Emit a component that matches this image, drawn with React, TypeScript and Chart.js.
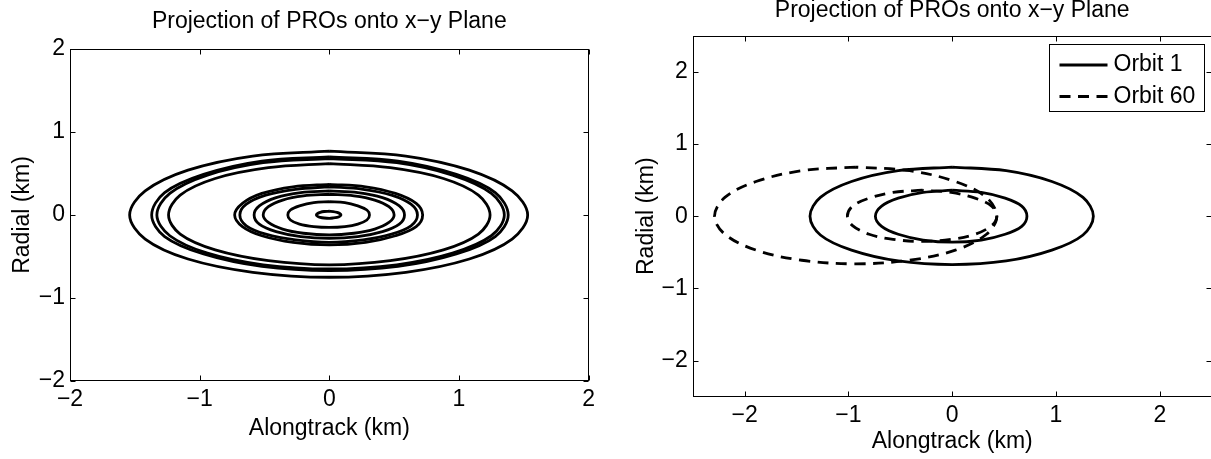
import React, { useEffect, useRef } from 'react';
import { Chart, registerables } from 'chart.js';

Chart.register(...registerables);

const FONT = "'Liberation Sans', Arial, Helvetica, sans-serif";
const FONT_SIZE = 23;

const titleText = 'Projection of PROs onto x\u2212y Plane';
const xAxisLabel = 'Alongtrack (km)';
const yAxisLabel = 'Radial (km)';

const leftXTicks = [-2, -1, 0, 1, 2];
const leftYTicks = [-2, -1, 0, 1, 2];
const rightXTicks = [-2, -1, 0, 1, 2];
const rightYTicks = [-2, -1, 0, 1, 2];

// Left panel: projected relative orbits (km)
const ring1X = [0, -0.59, -1.09, -1.42, -1.54, -1.42, -1.09, -0.59, 0, 0.59, 1.08, 1.41, 1.53, 1.41, 1.08, 0.59, 0];
const ring1Y = [0.77, 0.71, 0.54, 0.29, 0, -0.29, -0.53, -0.69, -0.75, -0.69, -0.53, -0.29, 0, 0.29, 0.54, 0.71, 0.77];
const ring2X = [0, -0.52, -0.97, -1.27, -1.37, -1.27, -0.97, -0.52, 0, 0.53, 0.98, 1.28, 1.38, 1.28, 0.98, 0.53, 0];
const ring2Y = [0.7, 0.65, 0.49, 0.27, 0, -0.26, -0.47, -0.62, -0.67, -0.62, -0.47, -0.26, 0, 0.27, 0.49, 0.65, 0.7];
const ring3X = [0, -0.51, -0.94, -1.23, -1.33, -1.23, -0.94, -0.51, 0, 0.52, 0.95, 1.25, 1.35, 1.25, 0.95, 0.52, 0];
const ring3Y = [0.68, 0.63, 0.48, 0.26, 0, -0.25, -0.46, -0.6, -0.65, -0.6, -0.46, -0.25, 0, 0.26, 0.48, 0.63, 0.68];
const ring4X = [0, -0.47, -0.88, -1.15, -1.24, -1.15, -0.88, -0.47, 0, 0.47, 0.88, 1.15, 1.24, 1.15, 0.88, 0.47, 0];
const ring4Y = [0.62, 0.57, 0.44, 0.24, 0, -0.23, -0.42, -0.55, -0.6, -0.55, -0.42, -0.23, 0, 0.24, 0.44, 0.57, 0.62];
const ring5X = [0, -0.28, -0.52, -0.67, -0.73, -0.67, -0.52, -0.28, 0, 0.28, 0.51, 0.67, 0.72, 0.67, 0.51, 0.28, 0];
const ring5Y = [0.37, 0.34, 0.26, 0.14, 0, -0.14, -0.25, -0.33, -0.36, -0.33, -0.25, -0.14, 0, 0.14, 0.26, 0.34, 0.37];
const ring6X = [0, -0.26, -0.49, -0.64, -0.69, -0.64, -0.49, -0.26, 0, 0.26, 0.48, 0.63, 0.68, 0.63, 0.48, 0.26, 0];
const ring6Y = [0.34, 0.31, 0.24, 0.13, 0, -0.13, -0.23, -0.3, -0.33, -0.3, -0.23, -0.13, 0, 0.13, 0.24, 0.31, 0.34];
const ring7X = [0, -0.22, -0.41, -0.54, -0.58, -0.54, -0.41, -0.22, 0, 0.22, 0.41, 0.54, 0.58, 0.54, 0.41, 0.22, 0];
const ring7Y = [0.29, 0.27, 0.21, 0.11, 0, -0.11, -0.2, -0.26, -0.28, -0.26, -0.2, -0.11, 0, 0.11, 0.21, 0.27, 0.29];
const ring8X = [0, -0.2, -0.36, -0.47, -0.51, -0.47, -0.36, -0.2, 0, 0.19, 0.35, 0.46, 0.5, 0.46, 0.35, 0.19, 0];
const ring8Y = [0.25, 0.23, 0.18, 0.1, 0, -0.09, -0.17, -0.22, -0.24, -0.22, -0.17, -0.09, 0, 0.1, 0.18, 0.23, 0.25];
const ring9X = [0, -0.12, -0.23, -0.3, -0.32, -0.3, -0.23, -0.12, 0, 0.12, 0.22, 0.29, 0.31, 0.29, 0.22, 0.12, 0];
const ring9Y = [0.16, 0.15, 0.11, 0.06, 0, -0.06, -0.11, -0.14, -0.15, -0.14, -0.11, -0.06, 0, 0.06, 0.11, 0.15, 0.16];
const ring10X = [0, -0.04, -0.07, -0.09, -0.1, -0.09, -0.07, -0.04, 0, 0.03, 0.06, 0.08, 0.09, 0.08, 0.06, 0.03, 0];
const ring10Y = [0.045, 0.042, 0.032, 0.018, 0, -0.016, -0.028, -0.036, -0.04, -0.036, -0.028, -0.016, 0, 0.018, 0.032, 0.042, 0.045];

// Right panel: orbit 1 (solid) and orbit 60 (dashed)
const orbit1OuterX = [0, -0.52, -0.97, -1.27, -1.37, -1.27, -0.97, -0.52, 0, 0.52, 0.96, 1.26, 1.36, 1.26, 0.96, 0.52, 0];
const orbit1OuterY = [0.68, 0.63, 0.48, 0.26, 0, -0.26, -0.47, -0.62, -0.67, -0.62, -0.47, -0.26, 0, 0.26, 0.48, 0.63, 0.68];
const orbit1InnerX = [0, -0.28, -0.52, -0.68, -0.74, -0.68, -0.52, -0.28, 0, 0.28, 0.51, 0.67, 0.72, 0.67, 0.51, 0.28, 0];
const orbit1InnerY = [0.36, 0.33, 0.25, 0.14, 0, -0.14, -0.25, -0.33, -0.36, -0.33, -0.25, -0.14, 0, 0.14, 0.25, 0.33, 0.36];
const orbit60OuterX = [-0.93, -1.45, -1.89, -2.19, -2.29, -2.19, -1.89, -1.45, -0.93, -0.41, 0.03, 0.33, 0.43, 0.33, 0.03, -0.41, -0.93];
const orbit60OuterY = [0.68, 0.63, 0.48, 0.26, 0, -0.25, -0.47, -0.61, -0.66, -0.61, -0.47, -0.25, 0, 0.26, 0.48, 0.63, 0.68];
const orbit60InnerX = [-0.29, -0.57, -0.8, -0.96, -1.01, -0.96, -0.8, -0.57, -0.29, -0.01, 0.22, 0.38, 0.43, 0.38, 0.22, -0.01, -0.29];
const orbit60InnerY = [0.36, 0.33, 0.25, 0.14, 0, -0.13, -0.25, -0.32, -0.35, -0.32, -0.25, -0.13, 0, 0.14, 0.25, 0.33, 0.36];

const legendLabels = ['Orbit 1', 'Orbit 60'];

const DASH = [11, 7.5];
const LINE_W = 2.8;

const toPts = (xs: number[], ys: number[]) => xs.map((x, i) => ({ x, y: ys[i] }));
const fmt = (v: number | string) => String(v).replace('-', '\u2212');

function curve(xs: number[], ys: number[], dashed = false) {
  return {
    data: toPts(xs, ys),
    showLine: true,
    borderColor: '#000',
    backgroundColor: '#000',
    borderWidth: LINE_W,
    borderDash: dashed ? DASH : [],
    pointRadius: 0,
    tension: 0.35,
    fill: false,
    borderJoinStyle: 'round' as const,
    borderCapStyle: 'butt' as const,
  };
}

function framePlugin(xTicks: number[], yTicks: number[], withLegend: boolean, titleY: number) {
  return {
    id: 'frameTicks',
    afterDatasetsDraw(chart: any) {
      const { ctx, chartArea: ca, scales } = chart;
      const L = Math.round(ca.left) + 0.5;
      const R = Math.round(ca.right) - 0.5;
      const T = Math.round(ca.top) + 0.5;
      const B = Math.round(ca.bottom) - 0.5;
      ctx.save();
      ctx.strokeStyle = '#000';
      ctx.lineWidth = 1;
      ctx.setLineDash([]);
      ctx.strokeRect(L, T, R - L, B - T);
      const tl = 5;
      ctx.beginPath();
      for (const v of xTicks) {
        const px = Math.round(scales.x.getPixelForValue(v)) + 0.5;
        ctx.moveTo(px, B);
        ctx.lineTo(px, B - tl);
        ctx.moveTo(px, T);
        ctx.lineTo(px, T + tl);
      }
      for (const v of yTicks) {
        const py = Math.round(scales.y.getPixelForValue(v)) + 0.5;
        ctx.moveTo(L, py);
        ctx.lineTo(L + tl, py);
        ctx.moveTo(R, py);
        ctx.lineTo(R - tl, py);
      }
      ctx.stroke();

      // plot title, centred over the axes box
      ctx.font = `${FONT_SIZE}px ${FONT}`;
      ctx.fillStyle = '#000';
      ctx.textBaseline = 'middle';
      ctx.textAlign = 'center';
      ctx.fillText(titleText, (ca.left + ca.right) / 2, titleY);

      if (withLegend) {
        const bw = 155;
        const bh = 67;
        const bx = Math.round(ca.right - 7.7 - bw) + 0.5;
        const by = Math.round(ca.top + 8.6) + 0.5;
        ctx.fillStyle = '#fff';
        ctx.fillRect(bx, by, bw, bh);
        ctx.strokeRect(bx, by, bw, bh);
        const rows = [by + 20.5, by + 52];
        ctx.textBaseline = 'middle';
        ctx.textAlign = 'left';
        rows.forEach((ry, i) => {
          ctx.beginPath();
          ctx.lineWidth = LINE_W;
          ctx.setLineDash(i === 1 ? DASH : []);
          ctx.moveTo(bx + 10, ry);
          ctx.lineTo(bx + 58, ry);
          ctx.stroke();
          ctx.setLineDash([]);
          ctx.fillStyle = '#000';
          ctx.fillText(legendLabels[i], bx + 64, ry);
        });
      }
      ctx.restore();
    },
  };
}

function makeOptions(opts: {
  range: number;
  xTicks: number[];
  yTicks: number[];
  yWidth: number;
  xHeight: number;
  padRight: number;
  padTop: number;
  yTitlePad: number;
  xTitlePad: number;
}) {
  const tickFont = { family: FONT, size: FONT_SIZE };
  const titleFont = { family: FONT, size: FONT_SIZE, weight: 'normal' as const, lineHeight: 1.2 };
  return {
    responsive: false,
    animation: false as const,
    events: [] as any[],
    devicePixelRatio: 1,
    layout: { padding: { left: 0, right: opts.padRight, top: opts.padTop, bottom: 0 } },
    plugins: {
      legend: { display: false },
      tooltip: { enabled: false },
      title: { display: false },
    },
    scales: {
      x: {
        type: 'linear' as const,
        min: -opts.range,
        max: opts.range,
        grid: { display: false, drawTicks: false },
        border: { display: false },
        afterBuildTicks: (scale: any) => {
          scale.ticks = opts.xTicks.map((v) => ({ value: v }));
        },
        afterFit: (scale: any) => {
          scale.height = opts.xHeight;
        },
        ticks: {
          color: '#000',
          font: tickFont,
          padding: 5,
          maxRotation: 0,
          autoSkip: false,
          callback: (v: any) => fmt(v),
        },
        title: {
          display: true,
          text: xAxisLabel,
          color: '#000',
          font: titleFont,
          padding: { top: 0, bottom: opts.xTitlePad },
        },
      },
      y: {
        type: 'linear' as const,
        min: -opts.range,
        max: opts.range,
        grid: { display: false, drawTicks: false },
        border: { display: false },
        afterBuildTicks: (scale: any) => {
          scale.ticks = opts.yTicks.map((v) => ({ value: v }));
        },
        afterFit: (scale: any) => {
          scale.width = opts.yWidth;
        },
        ticks: {
          color: '#000',
          font: tickFont,
          padding: 5,
          autoSkip: false,
          callback: (v: any) => fmt(v),
        },
        title: {
          display: true,
          text: yAxisLabel,
          color: '#000',
          font: titleFont,
          padding: { top: opts.yTitlePad, bottom: 0 },
        },
      },
    },
  };
}

export default function App() {
  const leftRef = useRef<HTMLCanvasElement | null>(null);
  const rightRef = useRef<HTMLCanvasElement | null>(null);

  useEffect(() => {
    if (!leftRef.current || !rightRef.current) return;

    const left = new Chart(leftRef.current, {
      type: 'scatter',
      data: {
        datasets: [
          curve(ring1X, ring1Y),
          curve(ring2X, ring2Y),
          curve(ring3X, ring3Y),
          curve(ring4X, ring4Y),
          curve(ring5X, ring5Y),
          curve(ring6X, ring6Y),
          curve(ring7X, ring7Y),
          curve(ring8X, ring8Y),
          curve(ring9X, ring9Y),
          curve(ring10X, ring10Y),
        ] as any,
      },
      options: makeOptions({
        range: 2,
        xTicks: leftXTicks,
        yTicks: leftYTicks,
        yWidth: 70,
        xHeight: 78,
        padRight: 10,
        padTop: 49,
        yTitlePad: 9,
        xTitlePad: 17,
      }) as any,
      plugins: [framePlugin(leftXTicks, leftYTicks, false, 22)],
    });

    const right = new Chart(rightRef.current, {
      type: 'scatter',
      data: {
        datasets: [
          curve(orbit1OuterX, orbit1OuterY),
          curve(orbit1InnerX, orbit1InnerY),
          curve(orbit60OuterX, orbit60OuterY, true),
          curve(orbit60InnerX, orbit60InnerY, true),
        ] as any,
      },
      options: makeOptions({
        range: 2.5,
        xTicks: rightXTicks,
        yTicks: rightYTicks,
        yWidth: 92.7,
        xHeight: 62.3,
        padRight: 0.3,
        padTop: 35.7,
        yTitlePad: 33,
        xTitlePad: 4,
      }) as any,
      plugins: [framePlugin(rightXTicks, rightYTicks, true, 11)],
    });

    return () => {
      left.destroy();
      right.destroy();
    };
  }, []);

  return (
    <div
      style={{
        position: 'fixed',
        left: 0,
        top: 0,
        width: 1211,
        height: 459,
        overflow: 'hidden',
        background: '#fff',
      }}
    >
      <canvas
        ref={leftRef}
        width={600}
        height={459}
        style={{ position: 'absolute', left: 0, top: 0, width: 600, height: 459 }}
      />
      <canvas
        ref={rightRef}
        width={612}
        height={459}
        style={{ position: 'absolute', left: 600, top: 0, width: 612, height: 459 }}
      />
    </div>
  );
}
